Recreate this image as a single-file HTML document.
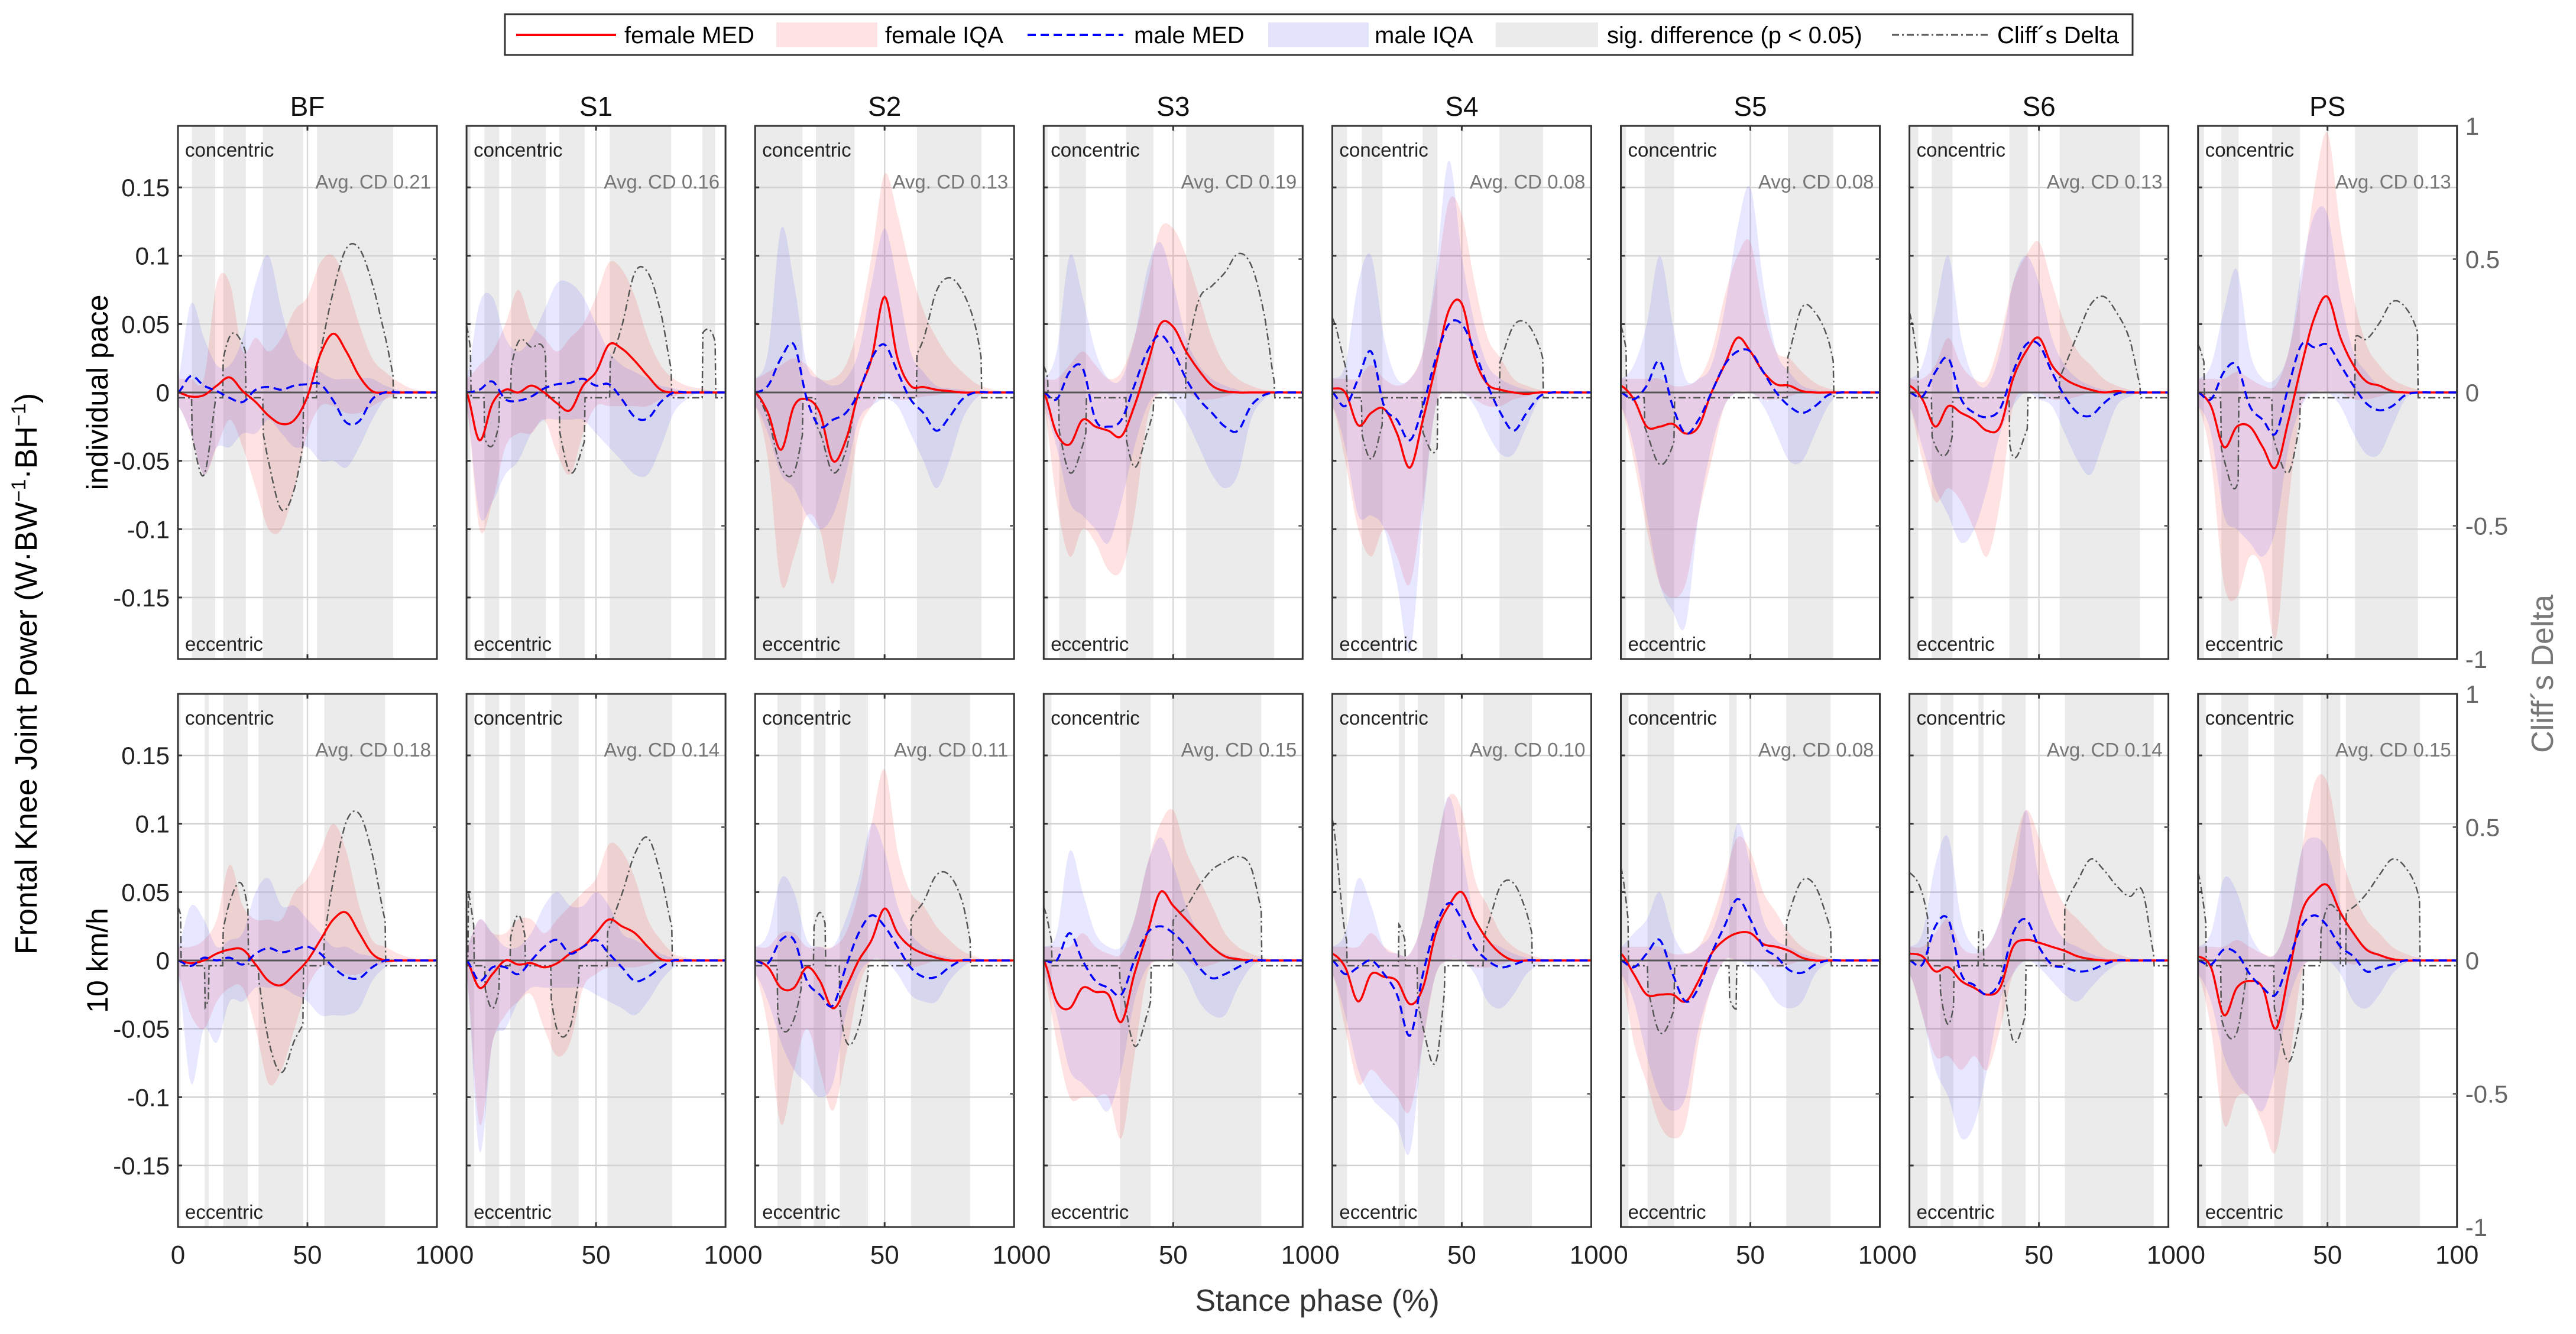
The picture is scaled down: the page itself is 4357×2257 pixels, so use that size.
<!DOCTYPE html>
<html><head><meta charset="utf-8"><style>
html,body{margin:0;padding:0;background:#fff}
svg{display:block}
text{font-family:"Liberation Sans",Arial,sans-serif}
</style></head><body>
<svg id="chart" width="4357" height="2257" viewBox="0 0 4357 2257" xmlns="http://www.w3.org/2000/svg">
<rect x="0" y="0" width="4357" height="2257" fill="#fff"/>
<g id="legend">
<rect x="854" y="24" width="2753" height="69" fill="#fff" stroke="#333" stroke-width="3"/>
<line x1="873" y1="59" x2="1042" y2="59" stroke="#f00" stroke-width="4"/>
<text x="1056" y="73" font-size="40">female MED</text>
<rect x="1313" y="38" width="171" height="42" fill="#fde3e3"/>
<text x="1497" y="73" font-size="40">female IQA</text>
<line x1="1738" y1="59" x2="1900" y2="59" stroke="#00f" stroke-width="4" stroke-dasharray="14 8"/>
<text x="1918" y="73" font-size="40">male MED</text>
<rect x="2145" y="38" width="170" height="42" fill="#e3e3fb"/>
<text x="2325" y="73" font-size="40">male IQA</text>
<rect x="2530" y="38" width="173" height="42" fill="#ebebeb"/>
<text x="2718" y="73" font-size="40">sig. difference (p &lt; 0.05)</text>
<line x1="3200" y1="59" x2="3365" y2="59" stroke="#555" stroke-width="3" stroke-dasharray="12 5 3 5"/>
<text x="3378" y="73" font-size="40">Cliff´s Delta</text>
</g>
<text transform="translate(62,1140) rotate(-90)" text-anchor="middle" font-size="52">Frontal Knee Joint Power (W·BW<tspan baseline-shift="super" font-size="34">−1</tspan>·BH<tspan baseline-shift="super" font-size="34">−1</tspan>)</text>
<text transform="translate(182,664) rotate(-90)" text-anchor="middle" font-size="50">individual pace</text>
<text transform="translate(182,1625) rotate(-90)" text-anchor="middle" font-size="50">10  km/h</text>
<text x="2228" y="2218" text-anchor="middle" font-size="52" fill="#333">Stance phase (%)</text>
<text transform="translate(4318,1140) rotate(-90)" text-anchor="middle" font-size="52" fill="#777">Cliff´s Delta</text>
<g id="plots"></g>
</svg>
<script>
const panels = ['BF','S1','S2','S3','S4','S5','S6','PS'];
const avgCD = [[0.21,0.16,0.13,0.19,0.08,0.08,0.13,0.13],[0.18,0.14,0.11,0.15,0.10,0.08,0.14,0.15]];
const yTicks = [0.15,0.1,0.05,0,-0.05,-0.1,-0.15];
const yTickLabels = ['0.15','0.1','0.05','0','-0.05','-0.1','-0.15'];
const cdTicks = [1,0.5,0,-0.5,-1];
const cdTickLabels = ['1','0.5','0','-0.5','-1'];
const xTicks = [0,50,100];
const xTickLabels = ['0','50','100'];
// series values in units of 0.01 W·BW-1·BH-1, sampled every 5% of stance (0..100); index = row*8+panel
const fMed = [
[0,-0.3,-0.2,0.5,1.1,0.1,-0.7,-1.7,-2.3,-2.0,-0.3,2.8,4.3,3.0,1.2,0.1,0,0,0,0,0],
[0,-3.5,-0.8,0.2,0,0.5,0,-0.8,-1.3,0.5,1.5,3.5,3.2,2.3,1.2,0.2,0,0,0,0,0],
[0,-1.5,-4.2,-1,-0.5,-1.5,-5,-3.5,0,2.5,7,2.5,0.5,0.4,0.2,0.1,0,0,0,0,0],
[0,-3,-3.8,-2,-2.5,-2.8,-3.2,-1,2,5,4.8,3,1.6,0.5,0.1,0,0,0,0,0,0],
[0.3,0,-2.4,-1.5,-1.2,-3,-5.5,-2,2,6,6.5,2.5,0.6,0.2,0,-0.1,0,0,0,0,0],
[0.5,-0.5,-2.5,-2.5,-2.3,-3,-2.5,0,2,4,3,1.5,0.6,0.5,0.1,0,0,0,0,0,0],
[0.5,-0.5,-2.5,-1,-1.5,-2,-2.8,-2.5,1,3,4,2,1,0.5,0.2,0,0.1,0,0,0,0],
[0,-1,-4,-2.5,-2.5,-4,-5.5,-2,2,5.5,7,4,2,0.8,0.5,0.1,0,0,0,0,0],
[0,-0.2,0,0.5,0.8,0.8,-0.3,-1.5,-1.8,-1,0,1.5,3,3.5,2,0.5,0,0,0,0,0],
[0,-2,-1,0,-0.3,-0.2,-0.5,-0.2,0.5,1,2,3,2.5,2,1,0.1,0,0,0,0,0],
[0,-0.5,-2,-2,-0.5,-1.5,-3.5,-2,0,1.5,3.8,2,1,0.5,0.2,0,0,0,0,0,0],
[0,-3,-3.5,-2,-2.3,-2.5,-4.5,-1,2,5,4,3,2,1,0.3,0.1,0,0,0,0,0],
[0.5,-0.5,-3,-1,-1.2,-1.5,-3.2,-2,2,4,5,3,1.5,0.5,0,0,0,0,0,0,0],
[0.5,-1,-2.5,-2.5,-2.5,-3,-1.5,0.5,1.5,2,2,1.2,1,0.7,0.2,0,0,0,0,0,0],
[0.5,0.3,-0.8,-0.5,-1.5,-2,-2.5,-2,1,1.5,1.3,1,0.7,0.3,0.1,0,0,0,0,0,0],
[0.3,-0.5,-4,-2,-1.5,-2,-5,-1,3.5,5,5.5,3.5,2,0.8,0.4,0.1,0,0,0,0,0]];
const mMed = [
[0,1.2,0.5,0.1,-0.4,-0.7,0.2,0.4,0.2,0.5,0.6,0.6,-0.6,-2.2,-2.1,-0.5,0,0,0,0,0],
[0,0.2,0.8,-0.5,-0.6,-0.3,0.3,0.6,0.7,1.0,0.5,0.6,-0.5,-1.8,-1.9,-0.7,0,0,0,0,0],
[0,0.5,2.5,3.5,-0.5,-2.5,-2,-1.5,0,2.5,3.5,1.5,-0.5,-1.5,-2.8,-1.8,-0.5,0,0,0,0],
[0,-0.5,1.5,1.8,-2,-2.5,-2,0.5,3,4.2,3,1,-0.5,-1.5,-2.5,-2.8,-1,-0.2,0,0,0],
[0,-1,1,3,-1,-2,-3.5,-1,2.5,5,5,3,0.5,-1.5,-2.8,-1.5,-0.3,0,0,0,0],
[0,-0.5,0.5,2.3,-1,-3,-2,0,2,3,3,1.5,0,-1,-1.5,-1,-0.2,0,0,0,0],
[0,-0.3,1.5,2.5,-0.5,-1.5,-1.8,-1.2,1.5,3.5,3.5,1.5,-0.3,-1.5,-1.7,-0.8,-0.1,0,0,0,0],
[0,-0.5,1.5,2,-1,-2,-3,0.5,3.5,3.3,3.5,2,0.5,-0.8,-1.3,-1,-0.2,0,0,0,0],
[0,-0.4,0.2,0,0.2,-0.3,0.5,0.9,0.6,0.8,1,0.5,-0.5,-1.2,-1.3,-0.5,0,0,0,0,0],
[0,-1.5,-0.5,-0.5,-1,0,1,1.5,0.5,1,1.5,0.5,-0.5,-1.5,-1.2,-0.5,0,0,0,0,0],
[0,-0.2,1.5,1.5,-1.5,-2.5,-3.3,-0.5,2,3.3,2.5,1,-0.5,-1.2,-1.2,-0.5,0,0,0,0,0],
[0,0,2,0,-1.5,-2,-2.5,0,2,2.5,2,1,-0.5,-1.3,-1,-0.5,0,0,0,0,0],
[0,-1,-0.5,0,-1,-2.5,-5.5,-1,2.5,4.2,3,1,0,-0.5,-0.3,0,0,0,0,0,0],
[0,-0.5,0.5,1.5,-1,-3,-2,0.5,2.5,4.5,3,1,0.3,-0.7,-0.9,-0.3,0,0,0,0,0],
[0,-0.3,2.5,3,-1,-1.8,-2.5,-1.5,2,3,1,-0.3,-0.5,-0.8,-0.7,-0.3,0,0,0,0,0],
[0,-0.3,0.8,0.5,-1,-2,-2.5,0,2.5,3.3,2.5,1,0.3,-0.8,-0.5,-0.3,0,0,0,0,0]];
const fHi = [
[1,1,1,8,8,3,4,3,4,6,7,9.5,10,8,5,2.5,1.5,0.8,0.3,0.1,0],
[1,2,3,5,7.5,5,4,3,4,5,7,9.5,9,7,4,2,1,0.5,0.3,0.1,0],
[1,1.5,2,2.5,2,1,1,2,5,10,16,13,9,6,4,2.5,1.5,0.7,0.3,0.1,0],
[1,1,2,3,2,1,1.5,4,8,12,12,10,7,4,2,1,0.5,0.2,0.1,0,0],
[1,1,1,2,1,0.5,1,3,8,14,13,8,4,2.5,1,0.5,0.2,0,0,0,0],
[1,1,1,1,0.5,0.5,1,3,7,10,11,6,3,2.5,1.5,0.7,0.3,0.1,0,0,0],
[1,1,2,4,2,1,1,4,8,10,11,8,5,3,2,1,0.5,0.2,0,0,0],
[1,1,1,1.5,1,0.5,0.5,3,8,15,19,12,7,3.5,2,1,0.5,0.2,0,0,0],
[1,1,1.5,3,7,4,3,3,3,5,6,8,10,8,4,1.5,1,0.5,0.2,0,0],
[1,3,2,2,3,3,2,3,4,5,6,8.5,8,6,3,1.5,0.5,0.2,0,0,0],
[1,1,2,2,1,1,1,2,5,10,14,8,5,4,2.5,1.5,0.7,0.3,0,0,0],
[1,1,1,2,1,0.5,0.5,3,7,10,11,8,6,4,2,1,0.5,0.2,0,0,0],
[1,1,1,2,1,0.5,0.5,3,8,12,11,6,4,2,1,0.5,0.2,0,0,0,0],
[1,1,1,1,0.5,0.5,1,3,6,9,8,5,3.5,2,1,0.5,0.2,0,0,0,0],
[1,1,2,3,1,0.5,1,3,8,11,9,6,4,3,2,1,0.5,0.2,0,0,0],
[1,1,1,1.5,1,0.5,0.5,3,8,13,13,8,5,3,2,1,0.5,0.2,0,0,0]];
const fLo = [
[-1,-3,-6,-4,-2,-4,-7,-10,-10,-7,-3,-1,-1,-1.5,-1.5,-1,-0.5,-0.2,0,0,0],
[-1,-10,-8,-4,-3,-3,-2,-4.5,-6,-3,-1,-1,-1,-1,-1,-0.5,-0.3,0,0,0,0],
[-1,-5,-14,-12,-9,-10,-14,-9,-3,-1,0,-0.5,-0.5,-0.3,-0.2,0,0,0,0,0,0],
[-1,-8,-12,-10,-11,-13,-13,-9,-2,0,0,0,-0.5,-0.5,-0.3,0,0,0,0,0,0],
[-1,-5,-10,-12,-10,-12,-14,-8,-1,0,0,-0.5,-1,-1,-0.5,-0.3,0,0,0,0,0],
[-1,-5,-10,-14,-15,-14,-9,-5,-1,0,0,-0.5,-0.5,-0.3,0,0,0,0,0,0,0],
[-1,-5,-8,-7,-8,-10,-12,-8,-1,0,0,-0.5,-0.5,-0.3,0,0,0,0,0,0,0],
[-1,-5,-14,-15,-12,-13,-18,-8,-1,0,0,0,-0.5,-0.5,-0.3,0,0,0,0,0,0],
[-1,-4,-5,-3,-2,-2,-5,-9,-8,-5,-2,-0.5,-0.5,-1,-1,-0.5,-0.2,0,0,0,0],
[-1,-12,-6,-4,-3,-2.5,-5,-7,-6,-2,-1,-0.5,-0.5,-0.5,-0.3,0,0,0,0,0,0],
[-1,-5,-12,-8,-5,-8,-11,-7,-2,0,0,0,-0.5,-0.3,0,0,0,0,0,0,0],
[-1,-6,-10,-10,-10,-10,-13,-7,-1,0,0,0,-0.5,-0.3,0,0,0,0,0,0,0],
[-1,-5,-9,-8,-9,-10,-11,-6,-1,0,0,-0.5,-0.5,-0.3,0,0,0,0,0,0,0],
[-1,-6,-9,-12,-13,-12,-6,-2,0,0,0,0,-0.5,-0.3,0,0,0,0,0,0,0],
[-1,-4,-7,-7,-8,-7,-8,-5,-1,0,0,-0.5,-0.3,0,0,0,0,0,0,0,0],
[-1,-5,-12,-10,-10,-12,-14,-8,-1,0,0,0,-0.3,0,0,0,0,0,0,0,0]];
const mHi = [
[1,6.5,4,2,2,4,8,10,6,3,2,1.5,1,1,1,1,0.5,0.2,0,0,0],
[1,6.5,7,4,3,4,6,8,8,7,5,3,2,1.5,1,0.5,0.3,0,0,0,0],
[1,3,12,8,2,1,0.5,1,3,8,12,8,3,1.5,0.5,0.3,0.2,0,0,0,0],
[1,3,10,7,3,1,1,4,9,11,8,4,2,1,0.5,0.2,0,0,0,0,0],
[1,2,8,10,4,1,1,3,9,17,10,5,2,1,0.5,0.2,0,0,0,0,0],
[1,2,5,10,5,1,1,2,6,12,15,8,3,1.5,0.5,0.2,0,0,0,0,0],
[1,2,6,10,4,1,0.5,3,8,10,8,4,2,1,0.5,0.2,0,0,0,0,0],
[1,2,6,9,3,1,1,3,9,13,13,7,3,1.5,0.5,0.2,0,0,0,0,0],
[1,4,3,1,1.5,2,5,6,4,4,3,2,1,1,0.5,0.3,0,0,0,0,0],
[1,3,2,1,1,2,4,5,4,4,5,4,2,1.5,1,0.5,0.2,0,0,0,0],
[1,2,6,5,1.5,1,1,3,6,10,8,4,2,1,0.5,0.2,0,0,0,0,0],
[1,2,8,5,2,1,1,3,7,9,7,4,2,1,0.5,0.2,0,0,0,0,0],
[1,2,6,4,1,0.5,0.5,3,8,12,8,3,1.5,1,0.5,0.2,0,0,0,0,0],
[1,2,3,5,2,0.5,1,2,5,10,7,3,1.5,1,0.5,0.2,0,0,0,0,0],
[1,2,7,9,3,1,1,3,6,11,6,3,1.5,1,0.5,0.2,0,0,0,0,0],
[1,2,6,5,2,0.5,0.5,3,8,9,8,4,2,1,0.5,0.2,0,0,0,0,0]];
const mLo = [
[-1,-3,-6,-4,-4,-3,-3,-2,-3,-4,-4,-5,-5,-5.5,-4,-2,-0.5,0,0,0,0],
[-1,-9,-8,-6,-5,-3,-2,-2,-2,-2,-3,-4,-5,-6,-6,-4,-1.5,-0.5,0,0,0],
[-1,-3,-6,-7,-9,-10,-9,-6,-2,-1,-0.5,-1,-3,-5,-7,-5,-2,-0.5,0,0,0],
[-1,-4,-8,-9,-10,-11,-8,-4,-1,0,-0.5,-2,-4,-6,-7,-6,-2,-0.5,0,0,0],
[-1,-4,-9,-9,-10,-14,-19,-9,-1,0,0,-1,-3,-4.5,-4.5,-2.5,-0.5,0,0,0,0],
[-1,-4,-9,-14,-16,-17,-9,-4,-1,0,0,-1,-3,-5,-5,-3,-1,0,0,0,0],
[-1,-4,-7,-9,-11,-10,-7,-3,-1,0,-0.5,-1,-3,-5,-6,-3.5,-1,-0.3,0,0,0],
[-1,-3,-9,-10,-11,-12,-10,-4,-1,0,0,-1,-3,-4.5,-4.5,-2.5,-0.5,0,0,0,0],
[-1,-9,-5,-6,-3,-3,-2,-2,-2,-2.5,-3,-4,-4,-4,-3.5,-1.5,-0.5,0,0,0,0],
[-1,-14,-6,-5,-3,-2,-2,-2,-2,-2,-2.5,-3,-3.5,-4,-3,-1.5,-0.5,0,0,0,0],
[-1,-3,-6,-8,-9,-10,-9,-4,-1,0,0,-1,-2.5,-3,-3,-1.5,-0.5,0,0,0,0],
[-1,-4,-8,-9,-10,-11,-8,-3,-0.5,0,0,-1,-3,-4,-4,-2,-0.5,0,0,0,0],
[-1,-4,-8,-10,-11,-12,-14,-6,-1,0,0,-1,-3,-3.5,-2.5,-1,-0.3,0,0,0,0],
[-1,-3,-7,-10,-11,-10,-5,-2,0,0,-0.5,-1.5,-3,-3.5,-3,-1,-0.2,0,0,0,0],
[-1,-4,-8,-10,-13,-12,-8,-3,-1,0,-0.5,-1.5,-2.5,-3,-2,-1,-0.3,0,0,0,0],
[-1,-3,-7,-9,-10,-11,-8,-3,-0.5,0,0,-1,-3,-3.5,-2.5,-1,-0.2,0,0,0,0]];
// Cliff's delta values (-1..1), every 5%
const cliffs = [
[0,-.15,-.31,0,.21,.18,0,-.26,-.44,-.36,-.1,.15,.38,.54,.54,.41,.21,0,0,0,0],
[.25,-.1,-.2,0,.19,.17,.16,-.1,-.3,-.2,0,.1,.25,.45,.45,.3,.05,0,.2,.22,0],
[0,-.1,-.28,-.3,-.1,-.15,-.3,-.22,0,0,0,0,.1,.2,.38,.43,.38,.25,0,0,0],
[.1,-.1,-.3,-.2,0,0,-.1,-.28,-.15,0,0,.15,.35,.4,.45,.52,.48,.3,0,0,0],
[.28,.1,-.1,-.25,-.1,0,0,-.15,-.22,0,0,0,0,.12,.25,.26,.17,0,0,0,0],
[.25,0,-.15,-.27,-.2,0,0,0,0,0,0,0,0,.15,.32,.3,.2,0,0,0,0],
[.3,0,-.2,-.22,0,0,0,0,-.24,-.15,0,0,.1,.22,.33,.36,.3,.2,0,0,0],
[.18,0,-.25,-.35,0,0,-.2,-.3,-.1,0,0,0,.2,.2,.26,.34,.32,.22,0,0,0],
[.2,0,-.18,0,.22,.28,0,-.3,-.42,-.3,-.2,0,.3,.52,.55,.4,.15,0,0,0,0],
[.28,0,-.18,0,.17,0,0,-.26,-.25,0,0,.12,.25,.4,.46,.32,.1,0,0,0,0],
[0,0,-.25,-.22,0,.18,0,-.3,-.25,0,0,0,.15,.22,.32,.32,.22,0,0,0,0],
[.2,0,0,0,0,0,-.1,-.32,-.2,0,.15,.2,.28,.34,.37,.39,.35,.15,0,0,0],
[.53,.1,0,0,0,.14,0,-.25,-.38,0,0,0,.13,.28,.29,.18,0,0,0,0,0],
[.35,0,-.1,-.27,-.2,0,0,0,-.1,-.18,0,0,0,.18,.3,.28,.15,0,0,0,0],
[.33,.25,0,-.24,0,.1,.1,0,-.3,-.2,0,0,.2,.3,.38,.34,.28,.24,.26,0,0],
[.33,0,-.25,-.27,0,0,-.2,-.38,-.2,0,.2,.18,.2,.25,.32,.38,.35,.25,0,0,0]];
// significant-difference intervals (% stance)
const sigRanges = [
[[5.4,14.4],[17.5,26.2],[32.8,48.4],[53.7,83.1]],
[[0,1.5],[6.9,12.6],[17.2,30.7],[35.8,45.6],[55.3,79],[91.1,96]],
[[0,18.3],[23.5,38.4],[62.5,87.4]],
[[0,1.5],[6,16.3],[31.8,42.4],[55,89]],
[[0,5.7],[11.4,19.4],[34.9,40.6],[64.6,81.4]],
[[0,2],[9.2,20.6],[64.5,82]],
[[0,3.4],[8.6,16.6],[38.6,45.7],[58,89]],
[[0,2.3],[9,15.7],[28.6,39.4],[60.6,84.9]],
[[0,1],[10.3,11.9],[17.5,27],[31.1,48.4],[56.5,80]],
[[0.6,2.9],[7.2,12.6],[16.9,22.6],[32.7,43.3],[54.4,79.4]],
[[8.6,17.8],[22.6,27.2],[32.7,43.6],[60.2,83]],
[[0,3],[29.5,41.3],[49.9,84]],
[[0,5.7],[25.7,28],[33,43.4],[58.3,77.1]],
[[0,2.9],[10.3,20.6],[41.8,44.7],[63.9,81]],
[[0,7],[12,17],[26.6,28.6],[35.7,44.9],[60,94.3]],
[[0,3],[9,19.4],[29.4,40.6],[47.4,54.9],[57.1,85.7]]];

const NS='http://www.w3.org/2000/svg';
const root=document.getElementById('plots');
const PL=301, PSTEP=488.1, PW=438, PH=902, ROWTOP=[213,1174], YLIM=0.195, UNIT=0.01, STEP=5;
function mk(tag,attrs,parent){const e=document.createElementNS(NS,tag);for(const k in attrs)e.setAttribute(k,attrs[k]);(parent||root).appendChild(e);return e;}
function xS(i,p){return PL+PSTEP*i+p/100*PW;}
function yS(r,v){return ROWTOP[r]+PH/2-v/YLIM*PH/2;}
function yCD(r,c){return ROWTOP[r]+PH/2-c*PH/2;}
function interp(arr,x){const n=arr.length-1;let f=x/STEP;let i=Math.floor(f);if(i>=n)return arr[n];const t=f-i;
 const p0=arr[Math.max(i-1,0)],p1=arr[i],p2=arr[Math.min(i+1,n)],p3=arr[Math.min(i+2,n)];
 return 0.5*((2*p1)+(-p0+p2)*t+(2*p0-5*p1+4*p2-p3)*t*t+(-p0+3*p1-3*p2+p3)*t*t*t);}
function inSig(ranges,x){return ranges.some(r=>x>=r[0]&&x<=r[1]);}

for(let r=0;r<2;r++){
 for(let i=0;i<8;i++){
  const k=r*8+i;
  const g=mk('g',{});
  
  
  const x0=xS(i,0), top=ROWTOP[r];
  sigRanges[k].forEach(s=>{
   const e=mk('rect',{x:xS(i,s[0]),y:top,width:xS(i,s[1])-xS(i,s[0]),height:PH,fill:'#ebebeb'},g);
   
   
  });
  [0.15,0.1,0.05,-0.05,-0.1,-0.15].forEach(v=>{mk('line',{x1:x0,x2:x0+PW,y1:yS(r,v),y2:yS(r,v),stroke:'#d2d2d2','stroke-width':2.5},g);});
  mk('line',{x1:xS(i,50),x2:xS(i,50),y1:top,y2:top+PH,stroke:'#d8d8d8','stroke-width':2.5},g);
  function band(lo,hi,fill,name){let pts=[];for(let x=0;x<=100;x+=0.5)pts.push(xS(i,x)+','+yS(r,interp(hi,x)*UNIT));
   for(let x=100;x>=0;x-=0.5)pts.push(xS(i,x)+','+yS(r,interp(lo,x)*UNIT));
   const e=mk('polygon',{points:pts.join(' '),fill:fill},g);
   
   }
  band(fLo[k],fHi[k],'rgba(255,60,60,0.14)','female-iqa-band');
  band(mLo[k],mHi[k],'rgba(60,60,255,0.12)','male-iqa-band');
  mk('line',{x1:x0,x2:x0+PW,y1:yS(r,0),y2:yS(r,0),stroke:'#555','stroke-width':3},g);
  let cd=[];for(let x=0;x<=100;x+=0.25){const c=inSig(sigRanges[k],x)?interp(cliffs[k],x):-0.02;cd.push(xS(i,x).toFixed(1)+','+yCD(r,c).toFixed(1));}
  const cl=mk('polyline',{points:cd.join(' '),fill:'none',stroke:'#555','stroke-width':2.5,'stroke-dasharray':'12 5 3 5'},g);
  
  
  function med(arr,col,dash,name){let pts=[];for(let x=0;x<=100;x+=0.5)pts.push(xS(i,x).toFixed(1)+','+yS(r,interp(arr,x)*UNIT).toFixed(1));
   const a={points:pts.join(' '),fill:'none',stroke:col,'stroke-width':3.5};if(dash)a['stroke-dasharray']=dash;
   const e=mk('polyline',a,g);
   
   }
  med(fMed[k],'#ff0000',null,'female-med-line');
  med(mMed[k],'#0000ff','14 8','male-med-line');
  mk('rect',{x:x0,y:top,width:PW,height:PH,fill:'none',stroke:'#333','stroke-width':3},g);
  yTicks.forEach(v=>{mk('line',{x1:x0,x2:x0+7,y1:yS(r,v),y2:yS(r,v),stroke:'#333','stroke-width':3},g);});
  [0.5,-0.5].forEach(c=>{mk('line',{x1:x0+PW-7,x2:x0+PW,y1:yCD(r,c),y2:yCD(r,c),stroke:'#666','stroke-width':3},g);});
  mk('line',{x1:xS(i,50),x2:xS(i,50),y1:top,y2:top+8,stroke:'#333','stroke-width':3},g);
  mk('line',{x1:xS(i,50),x2:xS(i,50),y1:top+PH-8,y2:top+PH,stroke:'#333','stroke-width':3},g);
  let t=mk('text',{x:x0+12,y:top+52,'font-size':33,fill:'#222'},g);t.textContent='concentric';
  
  
  t=mk('text',{x:x0+12,y:top+PH-14,'font-size':33,fill:'#222'},g);t.textContent='eccentric';
  
  
  t=mk('text',{x:x0+PW-10,y:top+106,'font-size':33,fill:'#777','text-anchor':'end'},g);t.textContent='Avg. CD '+avgCD[r][i].toFixed(2);
  
  
  if(r===0){t=mk('text',{x:x0+PW/2,y:196,'font-size':46,'text-anchor':'middle',fill:'#111'},g);t.textContent=panels[i];
   
   }
  if(r===1){xTicks.forEach((p,j)=>{t=mk('text',{x:xS(i,p),y:2138,'font-size':44,'text-anchor':'middle',fill:'#222'},g);t.textContent=xTickLabels[j];
   
   });}
  if(i===0){yTicks.forEach((v,j)=>{t=mk('text',{x:x0-14,y:yS(r,v)+15,'font-size':42,'text-anchor':'end',fill:'#222'},g);t.textContent=yTickLabels[j];
   
   });}
  if(i===7){cdTicks.forEach((c,j)=>{t=mk('text',{x:x0+PW+14,y:yCD(r,c)+15,'font-size':42,fill:'#666'},g);t.textContent=cdTickLabels[j];
   
   });}
 }
}
</script>
</body></html>
